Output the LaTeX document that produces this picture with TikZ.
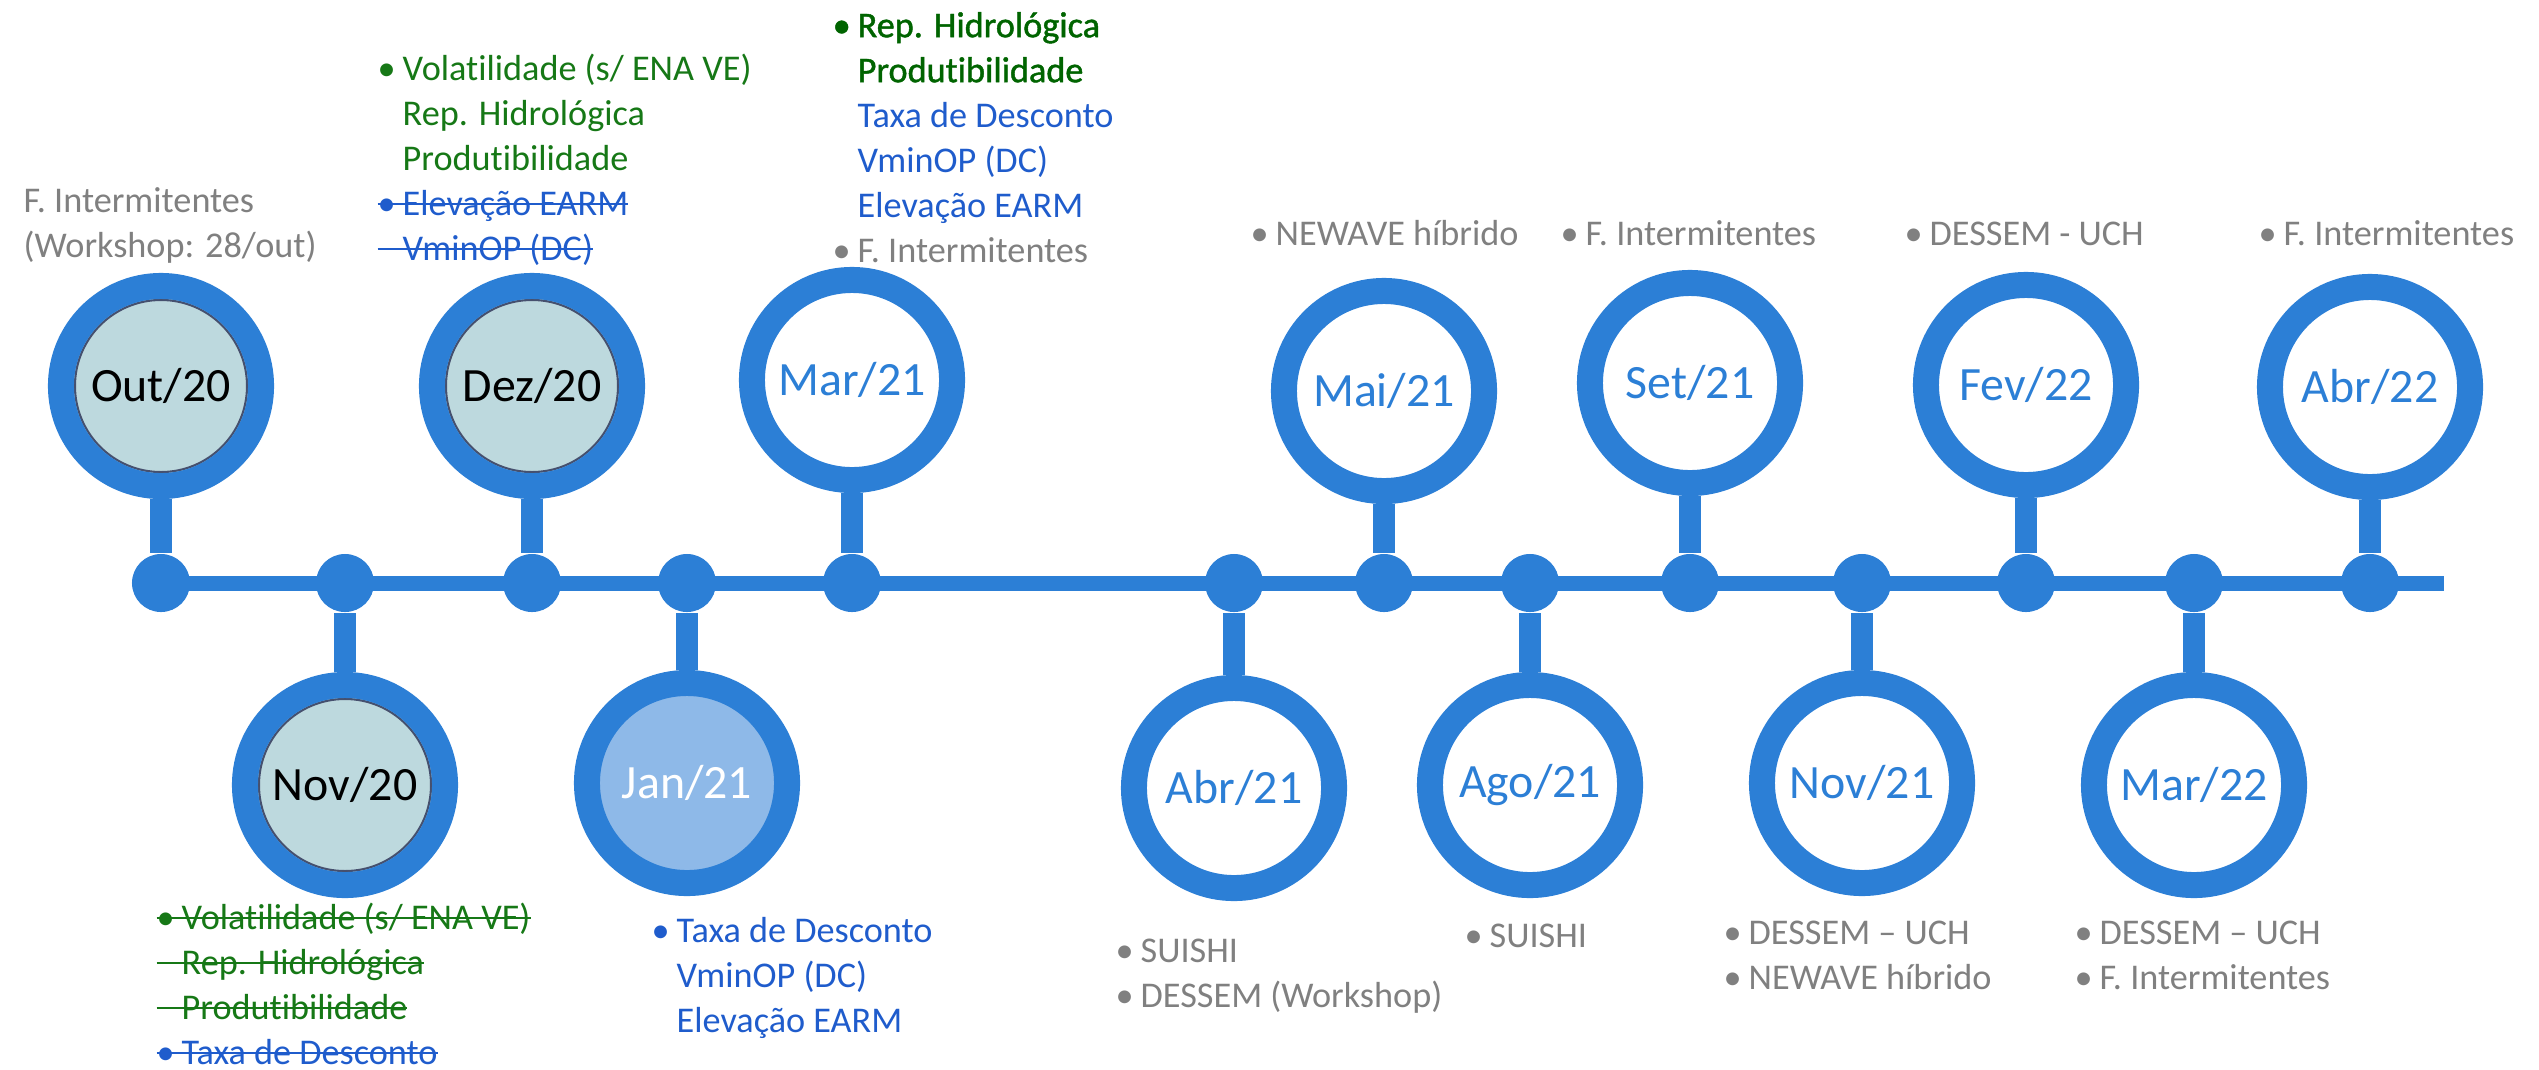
\documentclass[tikz,border=0pt]{standalone}
\usepackage{fontspec}
\setmainfont{Carlito}[Ligatures=NoCommon]
\newfontfamily\semibf{Carlito}[FakeBold=1.2, Ligatures=NoCommon]
\usepackage{tikz}
\usetikzlibrary{positioning}
\definecolor{tlblue}{RGB}{44,127,214}
\definecolor{donefill}{RGB}{189,217,222}
\definecolor{donerim}{RGB}{70,80,110}
\definecolor{curfill}{RGB}{142,185,232}
\definecolor{graytxt}{RGB}{128,128,128}
\definecolor{greentxt}{RGB}{22,120,22}
\definecolor{dkgreen}{RGB}{0,100,0}
\definecolor{bluetxt}{RGB}{31,92,204}
\newcommand{\bul}{\makebox[0.25cm][l]{•}} % bullet column
\newcommand{\ind}{\makebox[0.25cm]{}} % same indent, no bullet
\newcommand{\strike}[1]{\setbox0\hbox{#1}\rlap{\rule[0.27em]{\wd0}{0.8pt}}\box0} % struck-out item
\tikzset{
month/.style={circle, draw=tlblue, line width=0.26cm, minimum size=2cm, inner sep=0pt, text=tlblue, font=\fontsize{13.6}{16}\selectfont}, % ring of a month
done/.style={fill=donefill, text=black, path picture={\draw[donerim, line width=0.6pt] (path picture bounding box.center) circle (0.86cm);}}, % months already held
current/.style={fill=curfill, text=white}, % next meeting
dot/.style={circle, fill=tlblue, minimum size=0.58cm, inner sep=0pt},
stem/.style={draw=tlblue, line width=0.22cm},
axisline/.style={draw=tlblue, line width=0.15cm},
notes/.style={anchor=north west, align=left, inner sep=0pt, font=\fontsize{10.3}{12.8}\selectfont}
}
\begin{document}
\begin{tikzpicture}[x=0.01cm, y=-0.01cm]
\useasboundingbox (0,0) rectangle (2539,1069);
\coordinate (axis) at (0,583);
\coordinate (tlend) at (2444,583);
% months above the line
\node[month, done] (out20) at (161,386) {Out/20};
\node[month, done] (dez20) at (532,386) {Dez/20};
\node[month] (mar21) at (852,380) {Mar/21};
\node[month] (mai21) at (1384,391) {Mai/21};
\node[month] (set21) at (1690,383) {Set/21};
\node[month] (fev22) at (2026,385) {Fev/22};
\node[month] (abr22) at (2370,387) {Abr/22};
% months below the line
\node[month, done] (nov20) at (345,785) {Nov/20};
\node[month, current] (jan21) at (687,783) {Jan/21};
\node[month] (abr21) at (1234,788) {Abr/21};
\node[month] (ago21) at (1530,785) {Ago/21};
\node[month] (nov21) at (1862,783) {Nov/21};
\node[month] (mar22) at (2194,785) {Mar/22};
% dots and stems
\foreach \m in {out20,nov20,dez20,jan21,mar21,abr21,mai21,ago21,set21,nov21,fev22,mar22,abr22}{
  \node[dot] (d\m) at (\m |- axis) {};
  \draw[stem] (\m) -- (d\m);
}
\draw[axisline] (dout20.center) -- (tlend);
% notes
\node[notes, text=graytxt] (out20note) at (23,180) {\strut F. Intermitentes\\(Workshop: 28/out)};
\node[notes] (dez20note) at (377,48) {\strut\textcolor{greentxt}{\bul Volatilidade (s/ ENA VE)}\\
  \textcolor{greentxt}{\ind Rep. Hidrológica}\\
  \textcolor{greentxt}{\ind Produtibilidade}\\
  \textcolor{bluetxt}{\strike{\bul Elevação EARM}}\\
  \textcolor{bluetxt}{\strike{\ind VminOP (DC)}}};
\node[notes] (mar21note) at (832,5) {\strut\textcolor{dkgreen}{\semibf\bul Rep. Hidrológica}\\
  \textcolor{dkgreen}{\semibf\ind Produtibilidade}\\
  \textcolor{bluetxt}{\ind Taxa de Desconto}\\
  \textcolor{bluetxt}{\ind VminOP (DC)}\\
  \textcolor{bluetxt}{\ind Elevação EARM}\\
  \textcolor{graytxt}{\bul F. Intermitentes}};
\node[notes] (nov20note) at (156,897) {\strut\textcolor{greentxt}{\strike{\bul Volatilidade (s/ ENA VE)}}\\
  \textcolor{greentxt}{\strike{\ind Rep. Hidrológica}}\\
  \textcolor{greentxt}{\strike{\ind Produtibilidade}}\\
  \textcolor{bluetxt}{\strike{\bul Taxa de Desconto}}};
\node[notes, text=bluetxt] (jan21note) at (651,910) {\strut\bul Taxa de Desconto\\\ind VminOP (DC)\\\ind Elevação EARM};
\node[notes, text=graytxt] (mai21note) at (1250,213) {\strut\bul NEWAVE híbrido};
\node[notes, text=graytxt] (set21note) at (1560,213) {\strut\bul F. Intermitentes};
\node[notes, text=graytxt] (fev22note) at (1904,213) {\strut\bul DESSEM - UCH};
\node[notes, text=graytxt] (abr22note) at (2258,213) {\strut\bul F. Intermitentes};
\node[notes, text=graytxt] (abr21note) at (1115,930) {\strut\bul SUISHI\\\bul DESSEM (Workshop)};
\node[notes, text=graytxt] (ago21note) at (1464,915) {\strut\bul SUISHI};
\node[notes, text=graytxt] (nov21note) at (1723,912) {\strut\bul DESSEM – UCH\\\bul NEWAVE híbrido};
\node[notes, text=graytxt] (mar22note) at (2074,912) {\strut\bul DESSEM – UCH\\\bul F. Intermitentes};
\end{tikzpicture}
\end{document}
